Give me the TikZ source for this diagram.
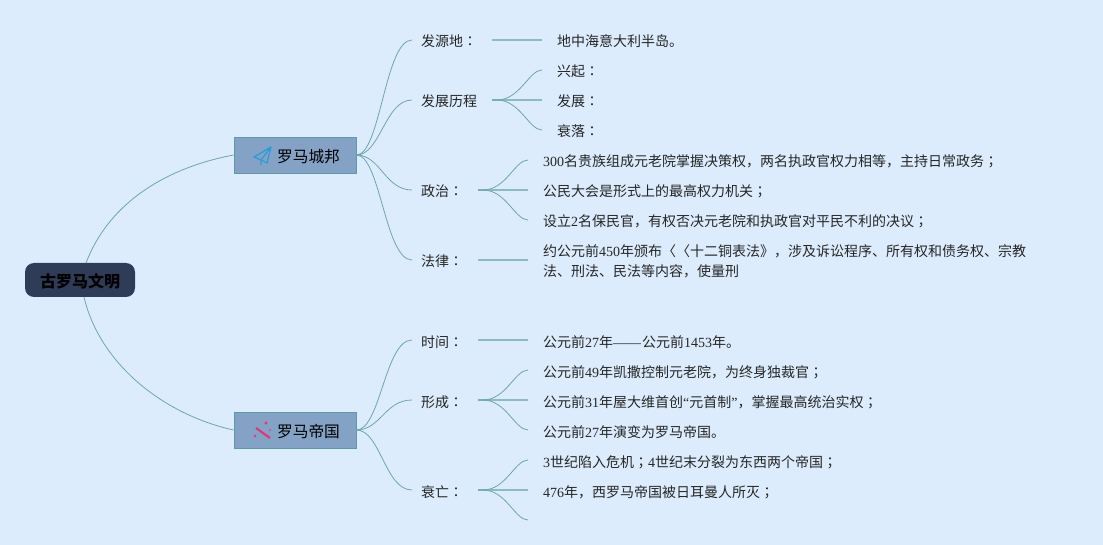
\documentclass[tikz,border=0pt]{standalone}
\usepackage{fontspec}
\setmainfont{Noto Sans CJK SC}
\newfontfamily\jp{Noto Sans CJK JP}
\newfontfamily\dg{Liberation Serif}
\newcommand{\cl}{{\jp ：}}
\newcommand{\sm}{{\jp ；}}
\definecolor{bgc}{HTML}{DCECFD}
\definecolor{rootc}{HTML}{2F3C58}
\definecolor{boxc}{HTML}{84A2C6}
\definecolor{boxl}{HTML}{5E9AA3}
\definecolor{linec}{HTML}{6FA5AB}
\definecolor{linel}{HTML}{8DBBC2}
\definecolor{planec}{HTML}{2F9BD8}
\definecolor{sparkc}{HTML}{E5347A}
\tikzset{
 rootbox/.style={draw=none,fill=rootc,rounded corners=9pt,minimum width=110pt,minimum height=34pt,inner sep=0pt,text height=17pt,text depth=2pt,font=\fontsize{16}{20}\selectfont\bfseries,text=black},
 topicbox/.style={draw=boxl,line width=0.8pt,fill=boxc,minimum width=122pt,minimum height=36pt,inner sep=0pt,text height=17pt,text depth=2pt,font=\fontsize{15.7}{20}\selectfont,text=black},
 txt/.style={anchor=west,inner sep=0pt,text height=17pt,text depth=3pt,font=\fontsize{14}{20}\selectfont,text=black!85},
 curve/.style={draw=linec,line width=0.8pt},
 straight/.style={draw=linel,line width=1.2pt},
}
\begin{document}
\begin{tikzpicture}[x=1pt,y=-1pt]
\path[use as bounding box,fill=bgc] (0,0) rectangle (1103,545);
% nodes
\node[rootbox] (root) at (80,280) {古罗马文明};
\node[topicbox] (cb) at (295,155) {\hspace*{27pt}罗马城邦};
\node[topicbox] (dg) at (295,430) {\hspace*{27pt}罗马帝国};
% level 2
\node[txt] (a1) at (421,40) {发源地\cl};
\node[txt] (a2) at (421,100) {发展历程};
\node[txt] (a3) at (421,190) {政治\cl};
\node[txt] (a4) at (421,260) {法律\cl};
\node[txt] (b1) at (421,340) {时间\cl};
\node[txt] (b2) at (421,400) {形成\cl};
\node[txt] (b3) at (421,490) {衰亡\cl};
% level 3
\node[txt] (a1x) at (557,40) {地中海意大利半岛。};
\node[txt] (a2x) at (557,70) {兴起\cl};
\node[txt] (a2y) at (557,100) {发展\cl};
\node[txt] (a2z) at (557,130) {衰落\cl};
\node[txt] (a3x) at (543,160) {{\dg 300}名贵族组成元老院掌握决策权，两名执政官权力相等，主持日常政务\sm};
\node[txt] (a3y) at (543,190) {公民大会是形式上的最高权力机关\sm};
\node[txt] (a3z) at (543,220) {设立{\dg 2}名保民官，有权否决元老院和执政官对平民不利的决议\sm};
\node[txt,align=left,text height=,text depth=] (a4x) at (543,261) {约公元前{\dg 450}年颁布〈〈十二铜表法》，涉及诉讼程序、所有权和债务权、宗教\\法、刑法、民法等内容，使量刑};
\node[txt] (b1x) at (543,340) {公元前{\dg 27}年{\dg ——}\hspace{1pt}公元前{\dg 1453}年。};
\node[txt] (b2x) at (543,370) {公元前{\dg 49}年凯撒控制元老院，为终身独裁官\sm};
\node[txt] (b2y) at (543,400) {公元前{\dg 31}年屋大维首创{\dg “}元首制{\dg ”}，掌握最高统治实权\sm};
\node[txt] (b2z) at (543,430) {公元前{\dg 27}年演变为罗马帝国。};
\node[txt] (b3x) at (543,460) {{\dg 3}世纪陷入危机\sm{\dg 4}世纪末分裂为东西两个帝国\sm};
\node[txt] (b3y) at (543,490) {{\dg 476}年，西罗马帝国被日耳曼人所灭\sm};
\coordinate (b3z) at (543,520);
% junctions
\coordinate (ja1) at (492,40);
\coordinate (ja2) at (492,100);
\coordinate (ja3) at (478,190);
\coordinate (ja4) at (478,260);
\coordinate (jb1) at (478,340);
\coordinate (jb2) at (478,400);
\coordinate (jb3) at (478,490);
% root connectors
\draw[curve] (86,263) .. controls (110,200) and (170,167) .. (cb.west);
\draw[curve] (84,297) .. controls (100,365) and (165,415) .. (dg.west);
% level 2 connectors
\foreach \n in {a1,a2,a3,a4}{
  \draw[curve] (cb.east) .. controls ([xshift=24pt]cb.east) and ([xshift=-36pt]\n.west) .. ([xshift=-9pt]\n.west);
}
\foreach \n in {b1,b2,b3}{
  \draw[curve] (dg.east) .. controls ([xshift=24pt]dg.east) and ([xshift=-36pt]\n.west) .. ([xshift=-9pt]\n.west);
}
% level 3 straight
\draw[straight] (ja1) -- ([xshift=-15pt]a1x.west);
\draw[straight] (ja2) -- ([xshift=-15pt]a2y.west);
\draw[straight] (ja3) -- ([xshift=-15pt]a3y.west);
\draw[straight] (ja4) -- ([xshift=-15pt,yshift=1pt]a4x.west);
\draw[straight] (jb1) -- ([xshift=-15pt]b1x.west);
\draw[straight] (jb2) -- ([xshift=-15pt]b2y.west);
\draw[straight] (jb3) -- ([xshift=-15pt]b3y.west);
% level 3 curves
\foreach \j/\n in {ja2/a2x,ja2/a2z,ja3/a3x,ja3/a3z,jb2/b2x,jb2/b2z,jb3/b3x}{
  \draw[curve] (\j) -- ++(5,0) .. controls ([xshift=28pt]\j) and ([xshift=-28pt]\n.west) .. ([xshift=-15pt]\n.west);
}
\draw[curve] (jb3) -- ++(5,0) .. controls ([xshift=28pt]jb3) and ([xshift=-28pt]b3z) .. ([xshift=-15pt]b3z);
% icons
\draw[draw=planec,line width=1.3pt,line join=round] (271,147) -- (254,157) -- (261,160) -- (271,147) -- (267,163) -- (261,160) -- (261,165);
\draw[draw=sparkc,line width=2.2pt] (256,428) -- (270,438);
\fill[sparkc] (266,423) circle (1.6pt) (255,436) circle (1.4pt) (270,430) circle (1pt);
\end{tikzpicture}
\end{document}
